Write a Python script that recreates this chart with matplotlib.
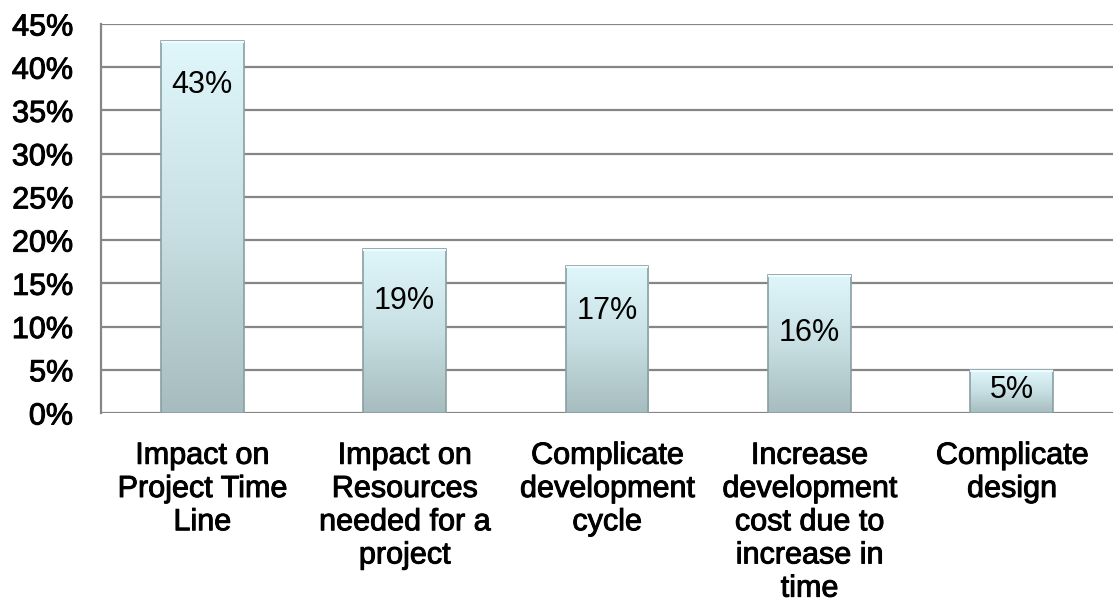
import numpy as np
import matplotlib
matplotlib.use("Agg")
import matplotlib.pyplot as plt
import matplotlib.patheffects as pe
from matplotlib.colors import LinearSegmentedColormap
from matplotlib.patches import Rectangle

categories = [
    "Impact on\nProject Time\nLine",
    "Impact on\nResources\nneeded for a\nproject",
    "Complicate\ndevelopment\ncycle",
    "Increase\ndevelopment\ncost due to\nincrease in\ntime",
    "Complicate\ndesign",
]
values = [43, 19, 17, 16, 5]
yticks = [0, 5, 10, 15, 20, 25, 30, 35, 40, 45]

plt.rcParams["font.family"] = ["Liberation Sans", "DejaVu Sans"]

fig = plt.figure(figsize=(11.13, 6.07), dpi=100)
ax = fig.add_axes([101 / 1113, 1 - 413 / 607, 1 - 101 / 1113, (413 - 24) / 607])

ax.set_xlim(-0.5, len(values) - 0.5)
ax.set_ylim(0, 45)

grid_color = "#868686"
for t in yticks:
    ax.axhline(t, color=grid_color, lw=1.6, zorder=1)

# bars with a vertical light-to-dark gradient
cmap = LinearSegmentedColormap.from_list("barfill", ["#a6bcbf", "#c8e0e3", "#dff7fa"])
grad = np.linspace(0, 1, 256).reshape(-1, 1)
width = 0.41
label_offsets = [-44, -52, -45, -58, -20]  # px below bar top
for i, v in enumerate(values):
    x0 = i - width / 2
    ax.imshow(grad, extent=[x0, x0 + width, 0, v], origin="lower",
              cmap=cmap, aspect="auto", zorder=2, interpolation="bicubic")
    ax.add_patch(Rectangle((x0, 0), width, v, fill=False,
                           edgecolor="#8a9fa2", lw=1.2, zorder=3))
    # soft bevel along the top edge
    ax.add_patch(Rectangle((x0, v - 0.25), width, 0.25, facecolor="#eefcfd",
                           edgecolor="none", zorder=3))
    ax.annotate(f"{v}%", xy=(i, v), xytext=(0, label_offsets[i] * 72 / 100),
                textcoords="offset points", ha="center", va="center",
                fontsize=22, color="black", zorder=4)

ax.set_xlim(-0.5, len(values) - 0.5)
ax.set_ylim(0, 45)

heavy = [pe.withStroke(linewidth=0.7, foreground="black")]
ax.set_yticks(yticks)
ax.set_yticklabels([f"{t}%" for t in yticks], fontsize=22)
ax.set_xticks(range(len(categories)))
ax.set_xticklabels(categories, fontsize=22, linespacing=1.14)
for lbl in ax.get_xticklabels() + ax.get_yticklabels():
    lbl.set_path_effects(heavy)
ax.tick_params(axis="y", length=0, pad=20)
ax.tick_params(axis="x", length=0, pad=20)

for s in ["top", "right", "bottom"]:
    ax.spines[s].set_visible(False)
ax.spines["left"].set_color(grid_color)
ax.spines["left"].set_linewidth(1.6)
ax.set_facecolor("white")

fig.savefig("out.png", dpi=100, facecolor="white")
